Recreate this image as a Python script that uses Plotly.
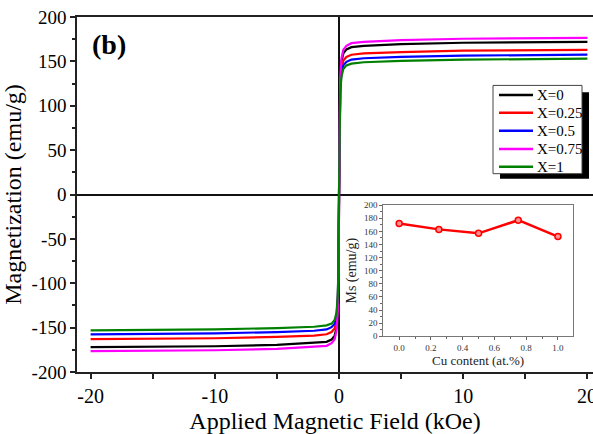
import plotly.graph_objects as go

# ---------------- data ----------------
H = [-20, -10, -5, -2, -1, -0.6, -0.35, -0.2, -0.1, -0.05, 0,
     0.05, 0.1, 0.2, 0.35, 0.6, 1, 2, 5, 10, 20]

M_x0 = [-172, -171, -169.5, -167.5, -166, -163.5, -159, -150, -129, -95, 0,
        95, 129, 150, 159, 163.5, 166, 167.5, 169.5, 171, 172]
M_x025 = [-163, -162, -160.5, -159, -157.5, -155, -151, -142, -122, -90, 0,
          90, 122, 142, 151, 155, 157.5, 159, 160.5, 162, 163]
M_x05 = [-157.5, -156.5, -155, -153.5, -152, -149.5, -145.5, -137, -118, -87, 0,
         87, 118, 137, 145.5, 149.5, 152, 153.5, 155, 156.5, 157.5]
M_x075 = [-176.5, -175.5, -174, -172, -170.5, -167.5, -163, -153.5, -132, -97, 0,
          97, 132, 153.5, 163, 167.5, 170.5, 172, 174, 175.5, 176.5]
M_x1 = [-153, -152, -150.5, -149, -147.5, -145.5, -141.5, -133, -115, -84, 0,
        84, 115, 133, 141.5, 145.5, 147.5, 149, 150.5, 152, 153]

series_names = ["X=0", "X=0.25", "X=0.5", "X=0.75", "X=1"]
series_values = [M_x0, M_x025, M_x05, M_x075, M_x1]
series_colors = ["#000000", "#ff0000", "#0000ff", "#ff00ff", "#008000"]

cu_content = [0.0, 0.25, 0.5, 0.75, 1.0]
ms_values = [172, 163, 157, 177, 152]

x_ticks = [-20, -10, 0, 10]
x_ticklabels = ["-20", "-10", "0", "10"]
y_ticks = [-200, -150, -100, -50, 0, 50, 100, 150, 200]
y_ticklabels = ["-200", "-150", "-100", "-50", "0", "50", "100", "150", "200"]

# ---------------- layout geometry ----------------
W, HGT = 593, 434
ML, MR, MT, MB = 77, 0, 17, 59
PW = W - ML - MR
PH = HGT - MT - MB
FONT = "Liberation Serif, Times New Roman, Times, serif"


def px(x):
    return (x - ML) / PW


def py(y):
    return (HGT - MB - y) / PH


fig = go.Figure()

for name, vals, col in zip(series_names, series_values, series_colors):
    fig.add_trace(go.Scatter(x=H, y=vals, mode="lines", name=name,
                             line=dict(color=col, width=2.2),
                             showlegend=False, xaxis="x", yaxis="y"))

fig.add_trace(go.Scatter(x=cu_content, y=ms_values, mode="lines+markers",
                         line=dict(color="#ff0000", width=2.5),
                         marker=dict(symbol="circle", size=6, color="#ff9090",
                                     line=dict(color="#ff0000", width=1.5)),
                         showlegend=False, xaxis="x2", yaxis="y2"))

x_per10 = 124.2
x_lo = -(339 - ML) / (x_per10 / 10)
x_hi = x_lo + PW / (x_per10 / 10)

fig.update_layout(
    width=W, height=HGT,
    margin=dict(l=ML, r=MR, t=MT, b=MB, pad=0),
    paper_bgcolor="white", plot_bgcolor="white",
    font=dict(family=FONT, color="black"),
    showlegend=False,
    xaxis=dict(range=[x_lo, x_hi], domain=[0, 1],
               tickvals=x_ticks, ticktext=x_ticklabels,
               ticks="outside", ticklen=5, tickwidth=1.5, tickcolor="#222",
               minor=dict(tickvals=[-15, -5, 5, 15, 20], ticks="outside", ticklen=5,
                          tickwidth=1.5, tickcolor="#222"),
               showline=True, linecolor="#222", linewidth=1.5, mirror=True,
               showgrid=False, zeroline=True, zerolinecolor="#111", zerolinewidth=1.5,
               tickfont=dict(size=20, family=FONT),
               title=dict(text="Applied Magnetic Field (kOe)",
                          font=dict(size=24, family=FONT), standoff=10)),
    yaxis=dict(range=[-200, 200], domain=[0, 1],
               tickvals=y_ticks, ticktext=y_ticklabels,
               ticks="outside", ticklen=5, tickwidth=1.5, tickcolor="#222",
               minor=dict(dtick=25, ticks="outside", ticklen=3, tickwidth=1.5,
                          tickcolor="#222"),
               showline=True, linecolor="#222", linewidth=1.5, mirror=False,
               showgrid=False, zeroline=True, zerolinecolor="#111", zerolinewidth=1.5,
               tickfont=dict(size=19, family=FONT),
               title=dict(text="Magnetization (emu/g)",
                          font=dict(size=24, family=FONT), standoff=4)),
    xaxis2=dict(domain=[px(383.3), px(573)], anchor="y2", range=[-0.1, 1.095],
                tickvals=[0, 0.2, 0.4, 0.6, 0.8, 1.0], tickformat=".1f",
                ticks="outside", ticklen=3, tickwidth=1, tickcolor="#666",
                minor=dict(tickvals=[0.1, 0.3, 0.5, 0.7, 0.9], ticks="outside",
                           ticklen=2, tickwidth=1, tickcolor="#666"),
                showline=True, linecolor="#777", linewidth=1, mirror=True,
                showgrid=False, zeroline=False,
                tickfont=dict(size=9, family=FONT, color="#333"),
                title=dict(text="Cu content (at.%)",
                           font=dict(size=13, family=FONT, color="#222"), standoff=0)),
    yaxis2=dict(domain=[py(339), py(206.7)], anchor="x2", range=[0, 200], dtick=20,
                ticks="outside", ticklen=3, tickwidth=1, tickcolor="#666",
                minor=dict(dtick=10, ticks="outside", ticklen=2, tickwidth=1,
                           tickcolor="#666"),
                showline=True, linecolor="#777", linewidth=1, mirror=True,
                showgrid=False, zeroline=False,
                tickfont=dict(size=9, family=FONT, color="#333"),
                title=dict(text="Ms (emu/g)",
                           font=dict(size=14, family=FONT, color="#222"), standoff=4)),
)

# ---------------- manual legend ----------------
shapes = []
shapes.append(dict(type="rect", xref="paper", yref="paper",
                   x0=px(500), x1=px(589), y0=py(180), y1=py(93),
                   fillcolor="black", line=dict(width=0), layer="above"))
shapes.append(dict(type="rect", xref="paper", yref="paper",
                   x0=px(493), x1=px(582), y0=py(175), y1=py(86),
                   fillcolor="white", line=dict(color="#444", width=1), layer="above"))
row_y = [95.7, 113.5, 131.7, 150, 168]
annotations = []
for name, col, ry in zip(series_names, series_colors, row_y):
    shapes.append(dict(type="line", xref="paper", yref="paper",
                       x0=px(499), x1=px(533), y0=py(ry), y1=py(ry),
                       line=dict(color=col, width=2.5), layer="above"))
    annotations.append(dict(x=px(535), y=py(ry), xref="paper", yref="paper",
                            text=name, showarrow=False, xanchor="left",
                            yanchor="middle",
                            font=dict(size=15, family=FONT, color="black")))

annotations.append(dict(x=px(109), y=py(45), xref="paper", yref="paper",
                        text="<b>(b)</b>", showarrow=False, xanchor="center",
                        yanchor="middle", font=dict(size=28, family=FONT, color="black")))
# last x tick label, cut by the right edge of the picture as in the reference
annotations.append(dict(x=20, y=py(399), xref="x", yref="paper",
                        text="20", showarrow=False, xanchor="center",
                        yanchor="middle", font=dict(size=20, family=FONT, color="black")))

fig.update_layout(shapes=shapes, annotations=annotations)

fig.write_html("out.html")
